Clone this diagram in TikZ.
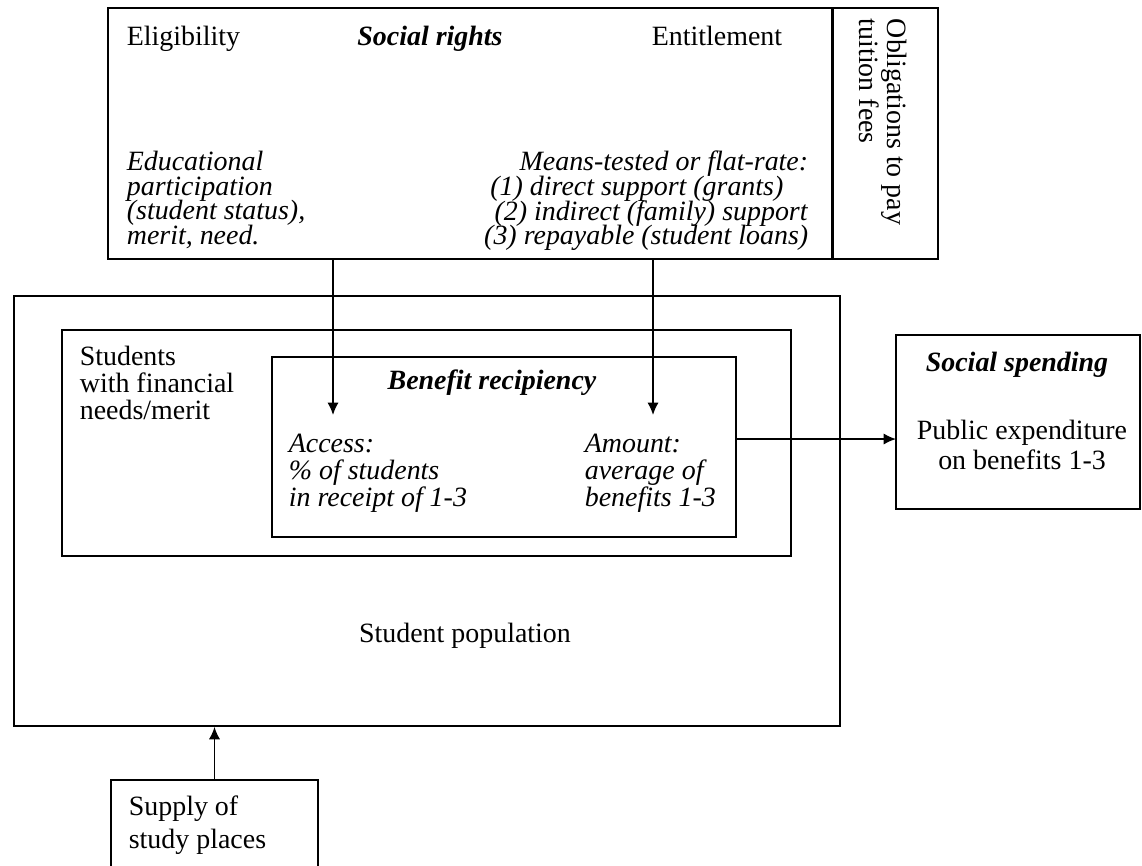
\documentclass[tikz,border=0pt]{standalone}
\usepackage{fontspec}
\setmainfont{Liberation Serif}
\usetikzlibrary{arrows.meta,positioning,fit}
\newcommand{\Tight}{\lineskiplimit -20pt\relax}
\tikzset{box/.style={draw=black,line width=0.75pt,inner sep=0pt}}
\tikzset{txt/.style={inner sep=0pt,font=\fontsize{12.4}{12}\selectfont\Tight}}
\newcommand{\Shead}[1]{\textbf{\textit{#1}}}

\begin{document}
\begin{tikzpicture}[x=0.444pt,y=-0.444pt,>={Latex[length=5.5pt,width=5pt]},line width=0.75pt]
\useasboundingbox (0,0) rectangle (1142,865);
% \draw[help lines] (0,0) grid (1142,865);
\node (rights) [box,fit={(108,8) (833,259)}] {};
\node (fees) [box,fit={(833,8) (938,259)}] {};
\draw[line width=1.4pt] (fees.north west) -- (fees.south west);
\node (pop) [box,fit={(14,296) (840,726)}] {};
\node (needs) [box,fit={(62,330) (791,556)}] {};
\node (recip) [box,fit={(272,357) (736,537)}] {};
\node (spend) [box,fit={(896,335) (1140,509)}] {};
\node (supply) [box,fit={(111,780) (318,880)}] {};
%
\node (elig) [txt,anchor=base west] at (126,45) {Eligibility};
\node (rightshead) [txt,anchor=base] at (430,45) {\Shead{Social rights}};
\node (entit) [txt,anchor=base east] at (783,45) {Entitlement};
\node (eligtext) [txt,anchor=north west,align=left,font=\fontsize{12.4}{11}\selectfont\Tight] at (126,150)
  {\textit{Educational}\\\textit{participation}\\\textit{(student status),}\\\textit{merit, need.}};
\node (entittext) [txt,anchor=north east,align=right,font=\fontsize{12.4}{11}\selectfont\Tight] at (809,150)
  {\textit{Means-tested or flat-rate:}\\\textit{(1) direct support (grants)}\kern11pt\\
   \textit{(2) indirect (family) support}\\\textit{(3) repayable (student loans)}};
\node (feestext) [txt,rotate=-90,anchor=north west,align=left,font=\fontsize{12.4}{12.5}\selectfont\Tight] at (908,18)
  {Obligations to pay\\tuition fees};
%
\node (needstext) [txt,anchor=north west,align=left] at (79,345)
  {Students\\with financial\\needs/merit};
\node (reciphead) [txt] at (492,383) {\Shead{Benefit recipiency}};
\node (access) [txt,anchor=north west,align=left] at (288,433)
  {\textit{Access:}\\\textit{\% of students}\\\textit{in receipt of 1-3}};
\node (amount) [txt,anchor=north west,align=left] at (584,433)
  {\textit{Amount:}\\\textit{average of}\\\textit{benefits 1-3}};
\node (poptext) [txt] at (465,636) {Student population};
\node (spendhead) [txt] at (1017,365) {\Shead{Social spending}};
\node (spendtext) [txt,align=center,font=\fontsize{12.4}{13.5}\selectfont\Tight] at (1022,445)
  {Public expenditure\\on benefits 1-3};
\node (supplytext) [txt,anchor=north west,align=left,font=\fontsize{12.4}{14.5}\selectfont\Tight] at (128,795)
  {Supply of\\study places};
%
\coordinate (accesstip) at (333,415);
\coordinate (amounttip) at (653,415);
\coordinate (spendin) at (896,439);
\draw[->] (rights.south -| accesstip) -- (accesstip);
\draw[->] (rights.south -| amounttip) -- (amounttip);
\draw[->] (recip.east |- spendin) -- (spendin);
\draw[->] (supply.north) -- (supply.north |- pop.south);
\end{tikzpicture}
\end{document}
